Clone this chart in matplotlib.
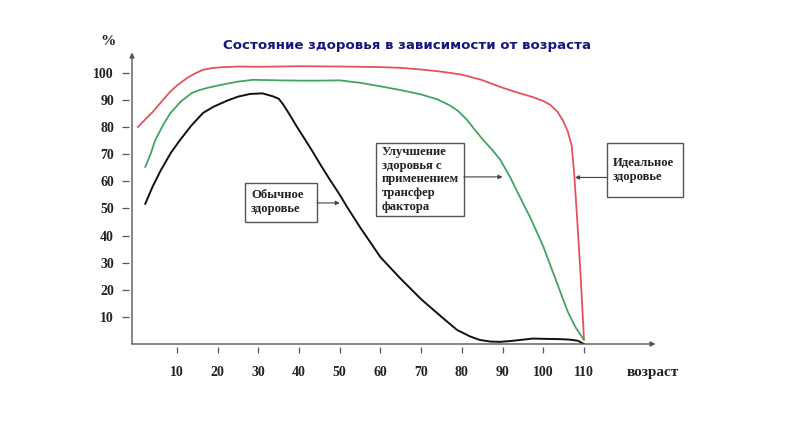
import numpy as np
import matplotlib.pyplot as plt
from matplotlib.patches import Rectangle

# data (age, %)
ideal_x = [0.4, 2, 4, 6, 8.3, 10, 12.5, 14.5, 16.4, 18.5, 20.6, 25, 30, 40, 50, 60, 65,
           70, 75, 80, 85, 89.4, 93, 97.5, 100, 101.7, 103.5, 104.8, 106, 107, 107.6, 108.3, 109.2, 110]
ideal_y = [80, 82.5, 85.5, 89, 93, 95.3, 98.1, 99.8, 101.1, 101.7, 102, 102.3, 102.2, 102.4, 102.3, 102.1, 101.8,
           101.2, 100.4, 99.3, 97.3, 94.8, 93, 91, 89.6, 88.2, 85.6, 82.5, 78.5, 73, 63, 47, 25, 2]

tf_x = [2.2, 3.5, 4.6, 6.5, 8.3, 11, 13.7, 15.5, 17.4, 21, 24.8, 28.7, 35, 40, 45, 50, 55, 60, 65,
        70, 74, 77, 79, 81.3, 83, 85.2, 87.5, 89.4, 91.8, 94, 97, 100, 102, 104, 106, 108, 110]
tf_y = [65.3, 70, 75, 80.5, 85, 89.5, 92.6, 93.6, 94.4, 95.6, 96.7, 97.4, 97.2, 97.1, 97.1, 97.2, 96.3, 95, 93.6,
        92, 90.2, 88, 86, 82.6, 79.3, 75.3, 71.5, 68, 61.7, 55, 46, 36, 28, 20, 12, 6, 1.5]

usual_x = [2.2, 4, 6, 8.5, 10.8, 13.5, 16.4, 19, 22.3, 25, 28, 31, 33.6, 35, 36, 37.5, 39.5,
           41.5, 43.5, 45.5, 47.6, 50, 51.8, 55, 60, 65, 70, 75, 78.8, 82, 84.4, 87, 89.4,
           92, 95, 97.5, 100, 104, 106.6, 108.5, 110]
usual_y = [51.7, 58, 64, 70.5, 75.3, 80.5, 85.2, 87.5, 89.7, 91.2, 92.2, 92.4, 91.3, 90.4, 88.5, 85, 80,
           75.3, 70.5, 65.5, 60.5, 55, 50.5, 43, 32, 24, 16.5, 10, 5.2, 2.8, 1.5, 0.9, 0.8,
           1.1, 1.6, 2, 1.9, 1.8, 1.6, 1.2, 0]

xticks = [10, 20, 30, 40, 50, 60, 70, 80, 90, 100, 110]
yticks = [10, 20, 30, 40, 50, 60, 70, 80, 90, 100]

serif = "Liberation Serif"

fig = plt.figure(figsize=(8.01, 4.25), dpi=100)
ax = fig.add_axes([0.1648, 0.1906, 0.6592, 0.6918])
ax.set_xlim(-1.06, 128.7)
ax.set_ylim(0, 108.4)

ax.plot(ideal_x, ideal_y, color="#e0545c", lw=1.3, zorder=3)
ax.plot(tf_x, tf_y, color="#3fa562", lw=1.3, zorder=3)
ax.plot(usual_x, usual_y, color="#111111", lw=1.4, zorder=3)

# axes with arrows
axis_col = "#555555"
ax.annotate("", xy=(-1.06, 107.5), xytext=(-1.06, 0), annotation_clip=False,
            arrowprops=dict(arrowstyle="-|>", color=axis_col, lw=1, mutation_scale=7, shrinkA=0, shrinkB=0))
ax.annotate("", xy=(127.6, 0), xytext=(-1.06, 0), annotation_clip=False,
            arrowprops=dict(arrowstyle="-|>", color=axis_col, lw=1, mutation_scale=7, shrinkA=0, shrinkB=0))

for s in ax.spines.values():
    s.set_visible(False)
ax.spines["left"].set_position(("outward", 2))
ax.spines["bottom"].set_position(("outward", 2))
ax.set_xticks(xticks)
ax.set_yticks(yticks)
ax.tick_params(axis="y", length=5, width=0.9, color=axis_col, pad=6)
ax.tick_params(axis="x", length=4, width=0.9, color=axis_col, pad=10)
for lab in ax.get_xticklabels() + ax.get_yticklabels():
    lab.set_fontfamily(serif)
    lab.set_fontweight("bold")
    lab.set_fontsize(10)
    lab.set_color("#222222")

ax.text(-7, 111.5, "%", fontfamily=serif, fontweight="bold", fontsize=11, color="#222222",
        ha="center", va="center", clip_on=False)
ax.text(127, -10.5, "возраст", fontfamily=serif, fontweight="bold", fontsize=11, color="#222222",
        ha="center", va="center", clip_on=False)

fig.text(0.508, 0.892, "Состояние здоровья в зависимости от возраста", ha="center", va="center",
         fontsize=9.6, fontweight="bold", color="#16167e", family="DejaVu Sans")

# label boxes
box_col = "#555555"
boxes = [
    (26.7, 45.0, 17.7, 14.4, "Обычное\nздоровье", (44.4, 52.0), (50.0, 52.0)),
    (58.9, 47.2, 21.6, 26.9, "Улучшение\nздоровья с\nприменением\nтрансфер\nфактора", (80.5, 61.6), (90.0, 61.6)),
    (115.6, 54.1, 18.7, 20.0, "Идеальное\nздоровье", (115.6, 61.4), (107.8, 61.4)),
]
for bx, by, bw, bh, txt, start, end in boxes:
    ax.add_patch(Rectangle((bx, by), bw, bh, fill=False, ec=box_col, lw=1, clip_on=False, zorder=4))
    ax.text(bx + 1.5, by + bh / 2, txt, fontfamily=serif, fontweight="bold", fontsize=9.1,
            color="#222222", ha="left", va="center", linespacing=1.22, clip_on=False, zorder=5)
    ax.annotate("", xy=end, xytext=start, annotation_clip=False,
                arrowprops=dict(arrowstyle="-|>", color="#444444", lw=0.8, mutation_scale=6,
                                shrinkA=0, shrinkB=0), zorder=5)

fig.savefig("out.png", dpi=100)
